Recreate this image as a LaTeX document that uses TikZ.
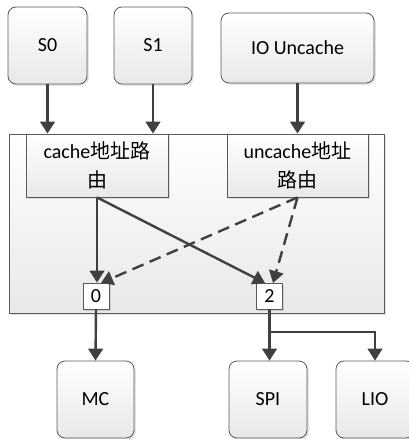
\documentclass[tikz,border=0pt]{standalone}
\usepackage{fontspec}
\setmainfont{Carlito}
\newfontfamily\cjk{Noto Sans CJK SC}
\usetikzlibrary{arrows.meta,shadows}
\definecolor{linec}{HTML}{404040}
\definecolor{edgec}{HTML}{5A5A5A}
\tikzset{
  base/.style={draw=edgec, line width=0.6pt, top color=white, bottom color=black!9,
    inner sep=0pt, align=center, font=\fontsize{15}{21.5}\selectfont,
    drop shadow={shadow xshift=1.4pt, shadow yshift=-1.4pt, opacity=0.22}},
  rbox/.style={base, rounded corners=6pt},
  sbox/.style={base},
  port/.style={draw=edgec, line width=0.6pt, fill=white, inner sep=0pt,
    minimum width=26*0.75pt, minimum height=26*0.75pt, font=\fontsize{15}{18}\selectfont,
    drop shadow={shadow xshift=1.2pt, shadow yshift=-1.2pt, opacity=0.25}},
  arr/.style={draw=linec, line width=1.8pt, -{Triangle[width=11pt,length=9pt]}},
  darr/.style={arr, dash pattern=on 9pt off 5pt},
}
\begin{document}
\begin{tikzpicture}[x=0.75pt,y=-0.75pt]
\useasboundingbox (0,0) rectangle (409,439);
% top sources
\node[rbox, minimum width=79*0.75pt, minimum height=77*0.75pt] (S0) at (47.5,45.5) {S0};
\node[rbox, minimum width=78*0.75pt, minimum height=77*0.75pt] (S1) at (153,45.5) {S1};
\node[rbox, minimum width=153*0.75pt, minimum height=70*0.75pt] (IO) at (297.5,48) {IO Uncache};
% container
\node[sbox, minimum width=375*0.75pt, minimum height=179*0.75pt] (cont) at (196.5,223.5) {};
\node[sbox, minimum width=142*0.75pt, minimum height=63*0.75pt] (cache) at (97,165.5) {cache{\cjk 地址路}\\{\cjk 由}};
\node[sbox, minimum width=141*0.75pt, minimum height=63*0.75pt] (uncache) at (297.5,165.5) {uncache{\cjk 地址}\\{\cjk 路由}};
\node[port] (p0) at (96,296) {0};
\node[port] (p2) at (269.5,296) {2};
% targets
\node[rbox, minimum width=77*0.75pt, minimum height=77*0.75pt] (MC) at (95.5,399.5) {MC};
\node[rbox, minimum width=78*0.75pt, minimum height=77*0.75pt] (SPI) at (268,399.5) {SPI};
\node[rbox, minimum width=78*0.75pt, minimum height=77*0.75pt] (LIO) at (375,399.5) {LIO};
% input arrows
\draw[arr] (S0.south) -- (S0.south |- cache.north);
\draw[arr] (S1.south) -- (S1.south |- cache.north);
\draw[arr] (IO.south) -- (uncache.north);
% routing arrows
\draw[arr] (cache.south) -- (cache.south |- p0.north);
\coordinate (p2in) at (265,283);
\draw[arr] (cache.south) -- (p2in);
\coordinate (p0in) at (101,283);
\draw[darr] (uncache.south) -- (p0in);
\coordinate (p2in2) at (273,283);
\draw[darr] (uncache.south) -- (p2in2);
% outputs
\draw[arr] (p0.south) -- (MC.north);
\draw[arr] (p2.south) -- (p2.south |- SPI.north);
\coordinate (br) at (p2.south |- 0,332);
\draw[arr] (br) -| (LIO.north);
\end{tikzpicture}
\end{document}
